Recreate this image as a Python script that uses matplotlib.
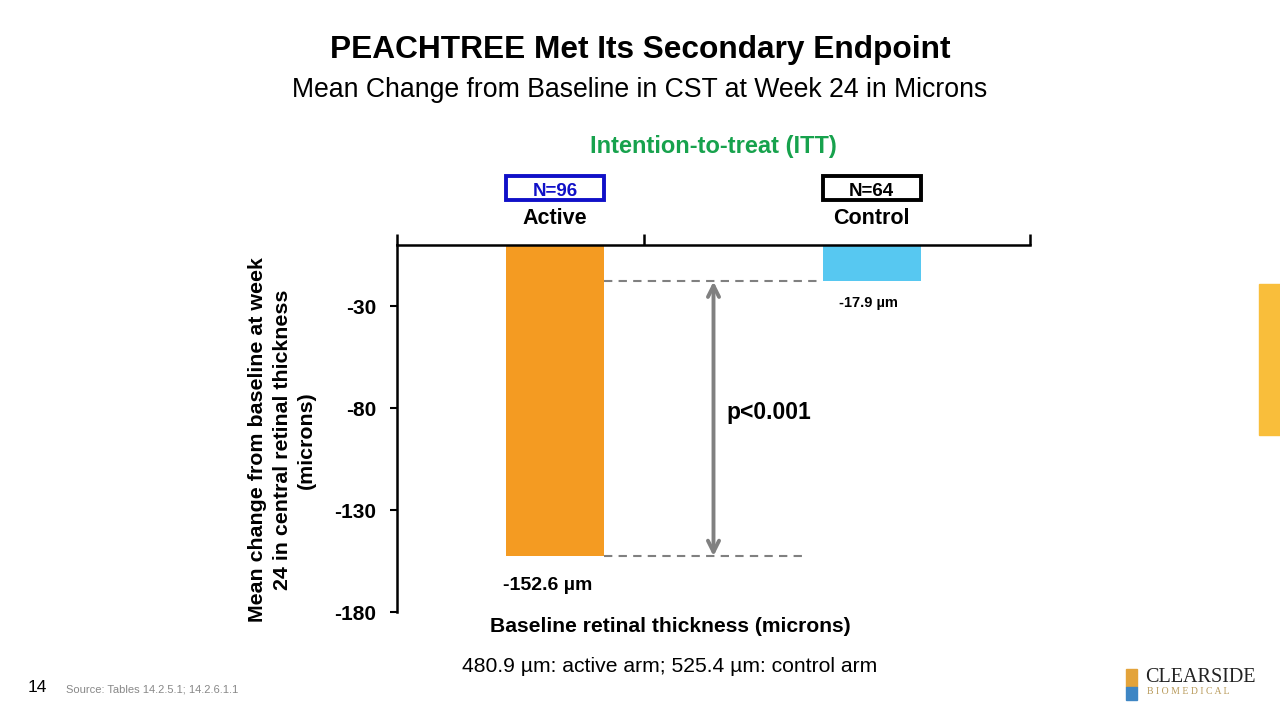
import matplotlib
matplotlib.use("Agg")
import matplotlib.pyplot as plt
from matplotlib.patches import Rectangle

plt.rcParams['font.family'] = ['Liberation Sans', 'DejaVu Sans']

# ---- data ----
categories = ["Active", "Control"]
n_labels = ["N=96", "N=64"]
values = [-152.6, -17.9]
value_labels = ["-152.6 µm", "-17.9 µm"]
y_ticks = [-30, -80, -130, -180]
bar_colors = ["#F49B22", "#57C8F1"]
box_colors = ["#1010C8", "#000000"]

fig = plt.figure(figsize=(12.8, 7.2), dpi=100)
ax = fig.add_axes([397/1280, 1-612/720, 633/1280, 367/720])

xpos = [0.5, 1.5]
bar_w = 0.31
ax.bar(xpos, values, width=bar_w, color=bar_colors, zorder=2)
ax.set_xlim(0, 2)
ax.set_ylim(-180, 0)

# spines / ticks
ax.spines['bottom'].set_visible(False)
ax.spines['right'].set_visible(False)
for s in ['top', 'left']:
    ax.spines[s].set_linewidth(1.8)
ax.xaxis.tick_top()
ax.set_xticks([0, 0.78, 2])
ax.set_xticklabels([])
ax.tick_params(axis='x', direction='out', length=8, width=1.8)
ax.set_yticks(y_ticks)
ax.set_yticklabels([str(v) for v in y_ticks], fontsize=15, fontweight='bold')
ax.tick_params(axis='y', direction='out', length=5, width=1.5, pad=10)

# dashed reference lines and arrow
ax.plot([0.655, 1.33], [values[1], values[1]], ls='--', color='#808080', lw=1.5, dashes=(4, 3))
ax.plot([0.655, 1.295], [values[0], values[0]], ls='--', color='#808080', lw=1.5, dashes=(4, 3))
ax.annotate('', xy=(1.0, values[1]), xytext=(1.0, values[0]),
            arrowprops=dict(arrowstyle='<->', color='#808080', lw=2.8, mutation_scale=20,
                            shrinkA=0, shrinkB=0))
ax.text(1.04, -82, "p<0.001", fontsize=16.5, fontweight='bold', ha='left', va='center')

# value labels
ax.text(0.475, values[0] - 10, value_labels[0], fontsize=14, fontweight='bold', ha='center', va='top')
ax.text(1.49, values[1] - 7, value_labels[1], fontsize=10.5, fontweight='bold', ha='center', va='top')

fig.text(282/1280, 1-440/720,
         "Mean change from baseline at week\n24 in central retinal thickness\n(microns)",
         fontsize=15.4, fontweight='bold', rotation=90, ha='center', va='center',
         linespacing=1.35, multialignment='center')

# category labels and N boxes
xt = ax.get_xaxis_transform()
for x, cat, nl, bc in zip(xpos, categories, n_labels, box_colors):
    ax.text(x, 1.073, cat, transform=xt, fontsize=15.5, fontweight='bold',
            ha='center', va='center')
    ax.add_patch(Rectangle((x - bar_w/2, 1.0 + 45/367), bar_w, 24/367, transform=xt,
                           fill=False, ec=bc, lw=2.8, clip_on=False))
    ax.text(x, 1.0 + 56/367, nl, transform=xt, fontsize=13.5, fontweight='bold',
            ha='center', va='center_baseline', color=bc)

# figure texts
fig.text(640/1280, 1-50/720, "PEACHTREE Met Its Secondary Endpoint", fontsize=22.8,
         fontweight='bold', ha='center', va='center')
fig.text(640/1280, 1-90/720, "Mean Change from Baseline in CST at Week 24 in Microns",
         fontsize=19.2, ha='center', va='center')
fig.text(713/1280, 1-147/720, "Intention-to-treat (ITT)", fontsize=17, fontweight='bold',
         color='#17A24D', ha='center', va='center')
fig.text(670/1280, 1-626/720, "Baseline retinal thickness (microns)", fontsize=15.2,
         fontweight='bold', ha='center', va='center')
fig.text(670/1280, 1-666/720, "480.9 µm: active arm; 525.4 µm: control arm", fontsize=15.2,
         ha='center', va='center')
fig.text(28/1280, 1-688/720, "14", fontsize=12.5, ha='left', va='center')
fig.text(66/1280, 1-689/720, "Source: Tables 14.2.5.1; 14.2.6.1.1", fontsize=8,
         color='#888888', ha='left', va='center')

# right yellow tab
fig.patches.append(Rectangle((1259/1280, 1-435/720), 21/1280, 151/720,
                             transform=fig.transFigure, color='#F9BE3B', zorder=0))

# logo
fig.patches.append(Rectangle((1126/1280, 1-687/720), 11/1280, 18/720,
                             transform=fig.transFigure, color='#E3A33A'))
fig.patches.append(Rectangle((1126/1280, 1-700/720), 11/1280, 13/720,
                             transform=fig.transFigure, color='#3E86C4'))
fig.text(1145/1280, 1-677/720, "CLEARSIDE", fontsize=14.5, family='Liberation Serif',
         color='#222222', ha='left', va='center')
fig.text(1147/1280, 1-692/720, "B I O M E D I C A L", fontsize=7, family='Liberation Serif',
         color='#B89A5A', ha='left', va='center')

fig.savefig("out.png", dpi=100)
